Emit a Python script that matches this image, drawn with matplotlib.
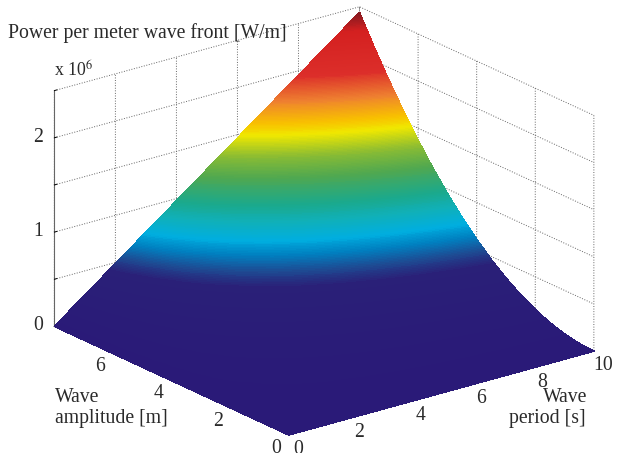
import numpy as np
import matplotlib
matplotlib.use("Agg")
import matplotlib.pyplot as plt
from matplotlib.colors import LinearSegmentedColormap
from matplotlib.tri import Triangulation
from mpl_toolkits.mplot3d import proj3d

# values
wave_period = [0, 1, 2, 3, 4, 5, 6, 7, 8, 9, 10]
wave_amplitude = [0, 0.5, 1, 1.5, 2, 2.5, 3, 3.5, 4, 4.5, 5, 5.5, 6, 6.5, 7, 7.5, 8]
# power in 10^6 W/m, one row per amplitude, one column per period
power = [
    [0, 0, 0, 0, 0, 0, 0, 0, 0, 0, 0],
    [0, .001, .002, .003, .004, .005, .006, .007, .008, .009, .010],
    [0, .004, .008, .011, .015, .019, .023, .027, .030, .034, .038],
    [0, .009, .017, .026, .034, .043, .051, .060, .069, .077, .086],
    [0, .015, .031, .046, .061, .077, .092, .107, .122, .138, .153],
    [0, .024, .048, .071, .095, .119, .143, .167, .190, .214, .238],
    [0, .034, .069, .103, .137, .172, .206, .240, .274, .309, .343],
    [0, .047, .093, .140, .187, .234, .280, .327, .374, .420, .467],
    [0, .061, .122, .183, .244, .305, .366, .427, .488, .549, .610],
    [0, .077, .154, .232, .309, .386, .463, .540, .618, .695, .772],
    [0, .095, .191, .286, .381, .477, .572, .667, .762, .858, .953],
    [0, .115, .231, .346, .461, .577, .692, .807, .922, 1.038, 1.153],
    [0, .137, .275, .412, .549, .687, .824, .961, 1.098, 1.236, 1.373],
    [0, .161, .322, .483, .644, .806, .967, 1.128, 1.289, 1.450, 1.611],
    [0, .187, .374, .560, .747, .934, 1.121, 1.308, 1.494, 1.681, 1.868],
    [0, .215, .429, .644, .858, 1.073, 1.287, 1.502, 1.716, 1.931, 2.145],
    [0, .244, .488, .732, .976, 1.220, 1.464, 1.708, 1.952, 2.196, 2.440],
]
period_ticks = [0, 2, 4, 6, 8, 10]
period_labels = ["0", "2", "4", "6", "8", "10"]
amplitude_ticks = [0, 2, 4, 6, 8]
amplitude_labels = ["0", "2", "4", "6", ""]
power_ticks = [0, 0.5, 1, 1.5, 2, 2.5]
power_labels = ["0", "", "1", "", "2", ""]

colour_stops = [
    (0.00, "#2A1A78"), (0.18, "#2A2078"), (0.22, "#1E4A92"), (0.26, "#0080C0"),
    (0.30, "#00AEE0"), (0.35, "#10B0B8"), (0.40, "#1BA98C"), (0.48, "#50A850"),
    (0.55, "#90BE30"), (0.61, "#F0E800"), (0.65, "#F8C000"), (0.72, "#EE8030"),
    (0.80, "#DC2E2A"), (0.94, "#D42020"), (1.00, "#8B1A20"),
]
cmap = LinearSegmentedColormap.from_list("wave", colour_stops)

plt.rcParams["font.family"] = "Liberation Serif"
plt.rcParams["mathtext.fontset"] = "stix"
plt.rcParams["grid.linestyle"] = ":"
plt.rcParams["grid.linewidth"] = 0.7
plt.rcParams["grid.color"] = "#666666"

W, H = 618, 453
fig = plt.figure(figsize=(W / 100, H / 100), dpi=100)

side = 453
cx, cy = 318, 227
ax = fig.add_axes([(cx - side / 2) / W, 1 - (cy + side / 2) / H, side / W, side / H],
                  projection="3d", proj_type="ortho")
ax.patch.set_alpha(0)
ax.view_init(elev=20.9, azim=232.4)
ax.set_box_aspect((386, 385, 253), zoom=1.285)
ax.set_xlim(0, 10, view_margin=0)
ax.set_ylim(0, 8, view_margin=0)
ax.set_zlim(0, 2.5, view_margin=0)

ax.set_xticks(period_ticks, period_labels)
ax.set_yticks(amplitude_ticks, amplitude_labels)
ax.set_zticks(power_ticks, power_labels)
for axis, pad in ((ax.xaxis, -1), (ax.yaxis, -1), (ax.zaxis, -3)):
    axis.set_pane_color((1, 1, 1, 0))
    axis.pane.set_edgecolor("none")
    axis.line.set_color("#666666")
    axis.set_tick_params(labelsize=14.2, labelcolor="#2a2a2a", pad=pad)
    axis._axinfo["tick"]["inward_factor"] = 0
    axis._axinfo["tick"]["outward_factor"] = 0.1
    axis._axinfo["tick"]["color"] = "#333333"
    axis._axinfo["tick"]["linewidth"] = {True: 0.7, False: 0.7}
    plt.setp(axis.get_ticklabels(), va="center")

# surface goes on a pixel-sized axes, 3d axes has no smooth shading
ax.apply_aspect()
tt, aa = np.meshgrid(wave_period, wave_amplitude)
zz = np.array(power)
xp, yp, _ = proj3d.proj_transform(tt.ravel(), aa.ravel(), zz.ravel(), ax.get_proj())
pix = ax.transData.transform(np.column_stack([xp, yp]))

# triangles from the grid, delaunay would fill the curved right edge
n_rows, n_cols = tt.shape
tris = []
for i in range(n_rows - 1):
    for j in range(n_cols - 1):
        k = i * n_cols + j
        tris.append([k, k + 1, k + n_cols])
        tris.append([k + 1, k + n_cols + 1, k + n_cols])
tri = Triangulation(pix[:, 0], pix[:, 1], tris)

ax2 = fig.add_axes([0, 0, 1, 1], facecolor="none")
ax2.set_xlim(0, W)
ax2.set_ylim(0, H)
ax2.axis("off")
cs = ax2.tricontourf(tri, zz.ravel(), levels=np.linspace(0, 2.44, 245), cmap=cmap, extend="both")
cs.set_edgecolor("face")
cs.set_linewidth(0.4)

ax2.text(8, H - 33, "Power per meter wave front [W/m]", fontsize=14.2, color="#2a2a2a", va="center")
ax2.text(54, H - 70, "x 10$^{6}$", fontsize=12.8, color="#2a2a2a", va="center")
ax2.text(55, H - 397, "Wave", fontsize=14.2, color="#2a2a2a", va="center")
ax2.text(55, H - 419, "amplitude [m]", fontsize=14.2, color="#2a2a2a", va="center")
ax2.text(587, H - 397, "Wave", fontsize=14.2, color="#2a2a2a", va="center", ha="right")
ax2.text(586, H - 419, "period [s]", fontsize=14.2, color="#2a2a2a", va="center", ha="right")

fig.savefig("out.png", dpi=100)
